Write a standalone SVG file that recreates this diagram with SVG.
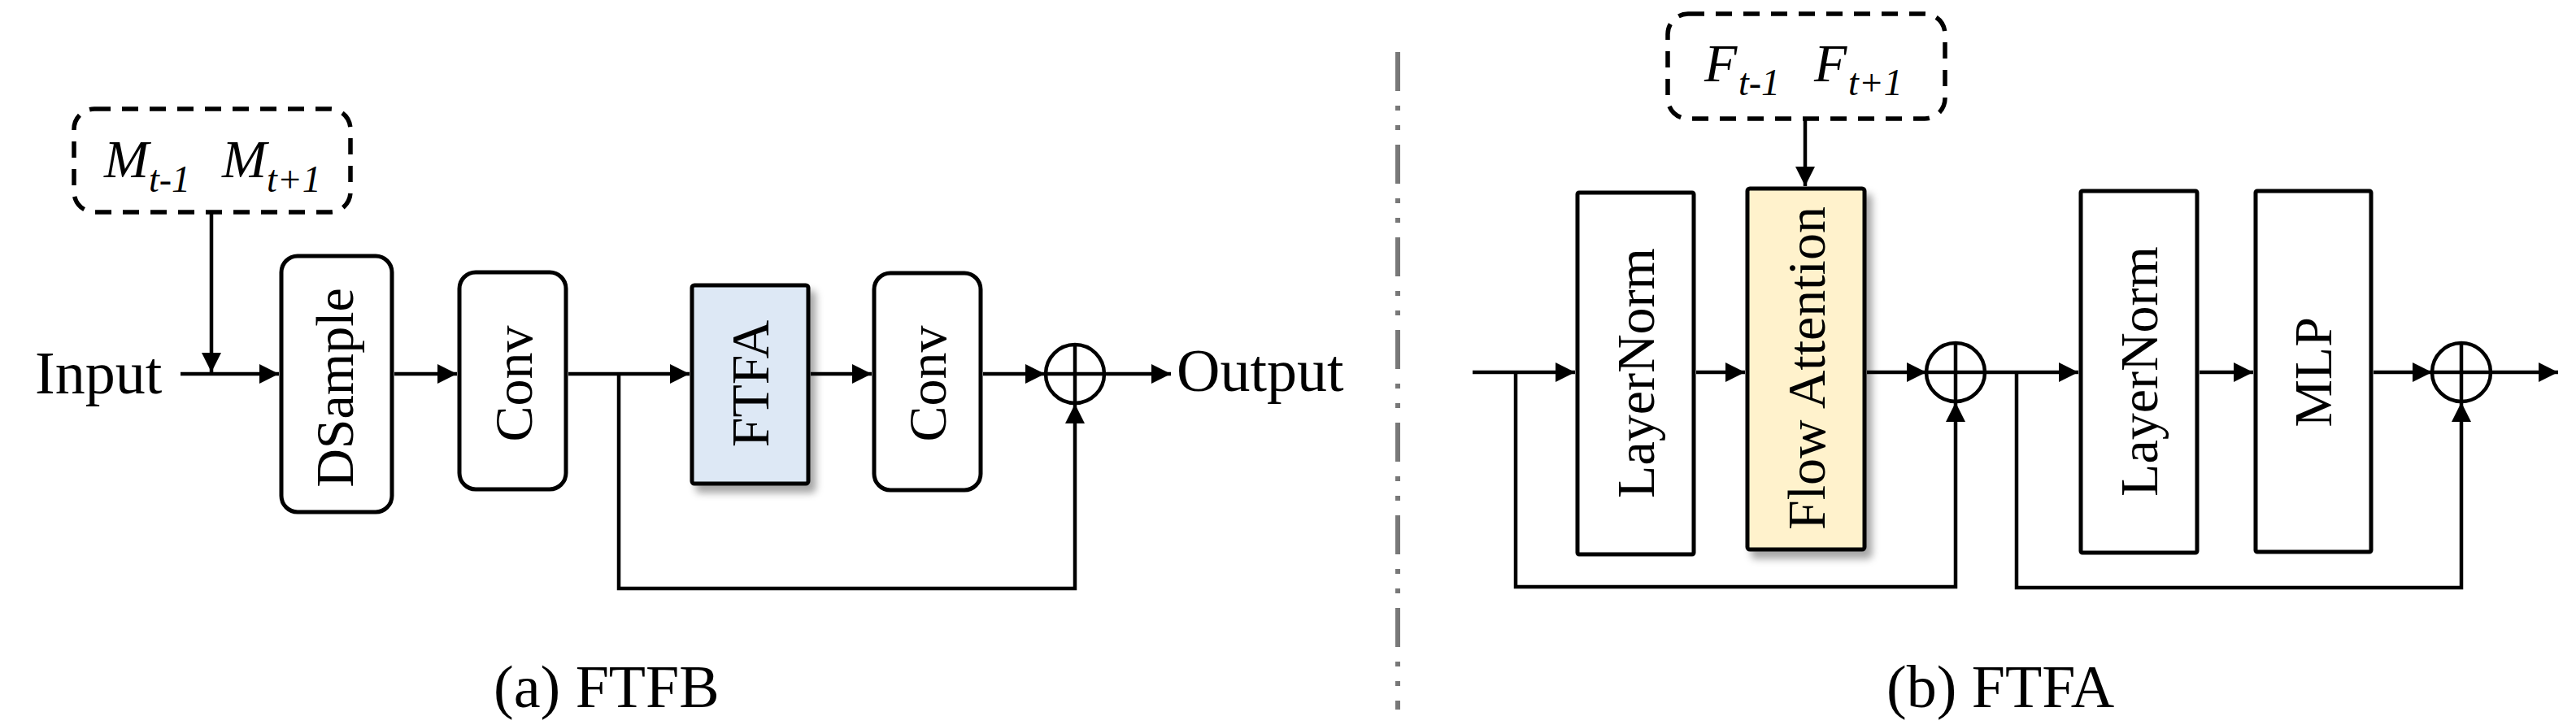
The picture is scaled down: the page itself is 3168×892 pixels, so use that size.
<svg xmlns="http://www.w3.org/2000/svg" width="3168" height="892" viewBox="0 0 3168 892">
<style>
  .box { fill: #ffffff; stroke: #000; stroke-width: 5; }
  .dash { fill: none; stroke: #000; stroke-width: 5.5; stroke-dasharray: 20 14; }
  .con { fill: none; stroke: #000; stroke-width: 4.5; }
  .arr { marker-end: url(#ah); }
  .lbl { font-family: "Liberation Serif", "Times New Roman", serif; font-size: 66px; fill: #000; text-anchor: middle; }
  .big { font-family: "Liberation Serif", "Times New Roman", serif; font-size: 74px; fill: #000; }
  .math { font-family: "Liberation Serif", "Times New Roman", serif; font-style: italic; fill: #000; }
  .mb { font-size: 66px; }
  .ms { font-size: 46px; }
</style>
<defs>
  <marker id="ah" markerUnits="userSpaceOnUse" markerWidth="24" markerHeight="24" refX="24" refY="12" orient="auto">
    <path d="M0,0 L24,12 L0,24 Z" fill="#000"/>
  </marker>
  <filter id="sh" x="-20%" y="-10%" width="150%" height="130%">
    <feDropShadow dx="7" dy="9" stdDeviation="5" flood-color="#000" flood-opacity="0.35"/>
  </filter>
</defs>
<rect width="3168" height="892" fill="#fff"/>

<!-- separator -->
<line x1="1719" y1="64" x2="1719" y2="873" stroke="#787878" stroke-width="6" stroke-dasharray="48 18 6 18 6 18"/>

<!-- connectors -->
<g id="connectors">
  <line class="con arr" x1="222" y1="460" x2="343" y2="460"/>
  <line class="con arr" x1="260" y1="263" x2="260" y2="458"/>
  <line class="con arr" x1="485" y1="460" x2="562" y2="460"/>
  <line class="con arr" x1="699" y1="460" x2="848" y2="460"/>
  <line class="con arr" x1="997" y1="460" x2="1072" y2="460"/>
  <line class="con arr" x1="1209" y1="460" x2="1285" y2="460"/>
  <line class="con arr" x1="1358" y1="460" x2="1440" y2="460"/>
  <path class="con arr" d="M761,460 V724 H1322 V497"/>

  <line class="con arr" x1="1811" y1="458" x2="1937" y2="458"/>
  <path class="con arr" d="M1864,458 V722 H2405 V495"/>
  <line class="con arr" x1="2086" y1="458" x2="2146" y2="458"/>
  <line class="con arr" x1="2220" y1="147" x2="2220" y2="229"/>
  <line class="con arr" x1="2296" y1="458" x2="2369" y2="458"/>
  <line class="con arr" x1="2441" y1="458" x2="2556" y2="458"/>
  <path class="con arr" d="M2480,458 V723 H3027 V495"/>
  <line class="con arr" x1="2705" y1="458" x2="2771" y2="458"/>
  <line class="con arr" x1="2919" y1="458" x2="2991" y2="458"/>
  <line class="con arr" x1="3063" y1="458" x2="3146" y2="458"/>
</g>

<!-- left panel -->
<g id="mask-input">
  <rect class="dash" x="91" y="134" width="340" height="127" rx="25"/>
  <text class="math mb" x="128" y="218">M</text>
  <text class="math ms" x="183" y="236">t-1</text>
  <text class="math mb" x="273" y="218">M</text>
  <text class="math ms" x="328" y="236">t+1</text>
</g>
<g id="input-label"><text class="big" x="43" y="484">Input</text></g>
<g id="dsample">
  <rect class="box" x="346" y="315" width="136" height="315" rx="20"/>
  <text class="lbl" transform="translate(434,477) rotate(-90)">DSample</text>
</g>
<g id="conv1">
  <rect class="box" x="565" y="335" width="131" height="267" rx="20"/>
  <text class="lbl" transform="translate(654,472) rotate(-90)">Conv</text>
</g>
<g id="ftfa-block">
  <rect class="box" x="851" y="351" width="143" height="244" rx="3" style="fill:#dde8f5" filter="url(#sh)"/>
  <text class="lbl" transform="translate(945,472) rotate(-90)">FTFA</text>
</g>
<g id="conv2">
  <rect class="box" x="1075" y="336" width="131" height="267" rx="20"/>
  <text class="lbl" transform="translate(1163,472) rotate(-90)">Conv</text>
</g>
<g id="add1">
  <circle cx="1322" cy="460" r="36" fill="#fff" stroke="#000" stroke-width="4.5"/>
  <line class="con" x1="1286" y1="460" x2="1358" y2="460"/>
  <line class="con" x1="1322" y1="424" x2="1322" y2="496"/>
</g>
<g id="output-label"><text class="big" x="1447" y="481">Output</text></g>
<g id="caption-a"><text class="big" x="607" y="870">(a) FTFB</text></g>

<!-- right panel -->
<g id="flow-input">
  <rect class="dash" x="2051" y="17" width="341" height="129" rx="25"/>
  <text class="math mb" x="2096" y="100">F</text>
  <text class="math ms" x="2138" y="117">t-1</text>
  <text class="math mb" x="2231" y="100">F</text>
  <text class="math ms" x="2273" y="117">t+1</text>
</g>
<g id="layernorm1">
  <rect class="box" x="1940" y="237" width="143" height="445" rx="2"/>
  <text class="lbl" transform="translate(2034,459) rotate(-90)">LayerNorm</text>
</g>
<g id="flow-attention">
  <rect class="box" x="2149" y="232" width="144" height="444" rx="3" style="fill:#fff2cc" filter="url(#sh)"/>
  <text class="lbl" transform="translate(2244,453) rotate(-90)">Flow Attention</text>
</g>
<g id="add2">
  <circle cx="2405" cy="458" r="36" fill="#fff" stroke="#000" stroke-width="4.5"/>
  <line class="con" x1="2369" y1="458" x2="2441" y2="458"/>
  <line class="con" x1="2405" y1="422" x2="2405" y2="494"/>
</g>
<g id="layernorm2">
  <rect class="box" x="2559" y="235" width="143" height="445" rx="2"/>
  <text class="lbl" transform="translate(2653,457) rotate(-90)">LayerNorm</text>
</g>
<g id="mlp">
  <rect class="box" x="2774" y="235" width="142" height="444" rx="2"/>
  <text class="lbl" transform="translate(2867,458) rotate(-90)">MLP</text>
</g>
<g id="add3">
  <circle cx="3027" cy="458" r="36" fill="#fff" stroke="#000" stroke-width="4.5"/>
  <line class="con" x1="2991" y1="458" x2="3063" y2="458"/>
  <line class="con" x1="3027" y1="422" x2="3027" y2="494"/>
</g>
<g id="caption-b"><text class="big" x="2320" y="870">(b) FTFA</text></g>
</svg>
